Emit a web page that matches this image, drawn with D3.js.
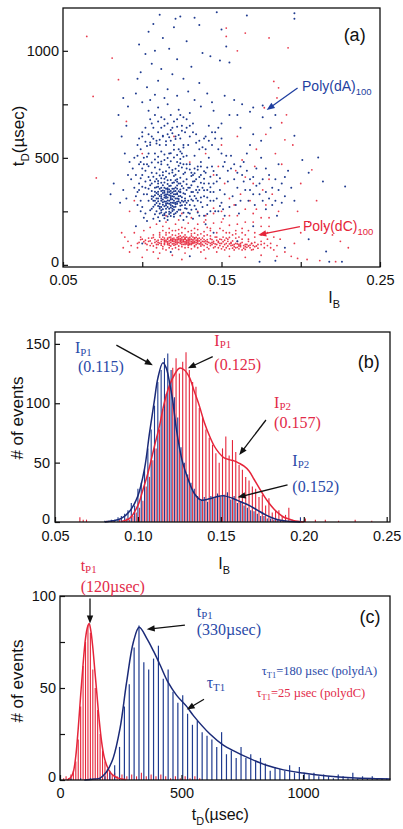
<!DOCTYPE html>
<html><head><meta charset="utf-8">
<script src="https://cdn.jsdelivr.net/npm/d3@7"></script>
<style>body{margin:0;background:#fff}svg{display:block}</style>
</head><body><svg id="chart" width="403" height="829"></svg>
<script>
// ---------------- DATA ----------------
// Panel (a): scatter, [I_B x1000, t_D (µsec)]
const polyA_points = [
[111,1168],[121,1150],[124,1160],[133,1154],[147,1180],[104,1089],[113,1060],[98,1030],[128,1045],[108,1000],[117,1010],[102,985],[138,990],[122,960],[143,975],[106,940],[131,925],[112,915],[99,900],[119,890],[126,870],[110,860],[136,850],[103,830],[116,820],[129,810],[141,800],[108,795],[97,870],[150,1100],[166,1165],[196,1175],[196,1150],[149,955],[155,945],[153,1020],[136,1120],[120,1110],[107,1125],
[88,780],[85,700],[91,740],[96,800],[100,760],[105,770],[114,780],[122,790],[133,770],[144,760],[152,790],[158,770],[163,750],[170,735],[176,745],[160,700],[168,715],[176,690],[184,700],
[106,262],[108,281],[110,297],[112,255],[114,274],[116,301],[118,268],[120,289],[122,310],[124,276],[126,295],[107,318],[109,336],[111,322],[113,347],[115,329],[117,352],[119,338],[121,361],[123,344],[125,369],[127,331],[105,372],[108,390],[110,365],[112,384],[114,402],[116,378],[118,396],[120,415],[122,388],[124,407],[126,424],[109,428],[111,446],[113,419],[115,437],[117,455],[119,431],[121,449],[123,463],[106,345],[111,271],[113,293],[115,262],[117,285],[119,306],[121,272],[123,297],[125,316],[110,310],[112,328],[114,315],[116,340],[118,322],[120,344],[122,330],[124,352],[107,299],[109,250],[111,240],[113,232],[115,246],[117,238],[119,252],[121,241],[118,228],[114,218],[120,225],[116,210],[104,300],[103,330],[102,360],[104,410],[106,430],[108,455],[110,478],[112,470],[114,490],[116,468],[118,484],[120,502],[122,480],[124,495],[126,470],[128,450],[128,400],[129,360],[130,320],[128,290],[127,265],[130,280],[131,340],[132,300],[115,355],[113,372],[117,368],[119,382],[121,395],[123,380],[110,392],[112,405],[114,345],[116,358],[118,305],[120,318],[122,335],[124,322],[112,310],[114,296],[116,288],[118,312],[120,300],[122,285],[115,278],[117,262],[119,275],[121,290],[108,342],[106,380],[109,362],[111,355],[113,336],[115,312],[117,325],[119,320],[121,330],[123,308],
[96,420],[98,380],[97,340],[99,300],[100,450],[101,500],[99,540],[98,470],[100,270],[102,240],[103,470],[104,520],[105,560],[106,600],[107,640],[108,520],[109,580],[110,620],[111,560],[112,530],[113,600],[114,650],[115,560],[116,610],[117,520],[118,580],[119,640],[120,560],[121,600],[122,680],[123,540],[124,590],[125,520],[126,560],[127,620],[128,510],[129,560],[130,470],[131,430],[132,390],[133,450],[134,350],[135,300],[136,410],[137,480],[138,360],[139,320],[140,430],[141,280],[142,380],[143,340],[144,460],[145,300],[146,250],[138,270],[136,230],[134,260],[132,215],[130,240],[128,225],[140,540],[142,500],[139,590],[136,540],[134,610],[132,660],[130,600],[128,680],[125,650],[118,700],[112,690],[105,680],[102,640],[100,600],[97,560],[95,500],[94,450],[93,400],[95,360],[96,320],[97,280],[99,250],[101,220],[103,205],[107,215],[111,205],[124,230],[126,210],[133,510],[135,460],[137,420],[139,380],[141,350],[143,300],[145,380],[147,420],[149,350],[150,290],[152,330],[154,390],[151,460],[153,510],[148,540],[150,590],[146,620],[144,560],[142,650],[148,250],[152,230],[155,270],[157,320],[159,280],[156,450],[158,400],[160,360],[162,300],[161,240],[163,420],[165,350],[164,480],[167,300],[166,520],[168,400],[170,330],[172,450],[171,280],[174,380],[176,300],[178,340],[175,500],[180,420],[182,360],[184,300],[186,470],[188,380],[190,320],[192,440],[185,230],[178,260],
[80,330],[82,380],[86,290],[88,350],[90,310],[91,420],[92,480],[89,520],[87,600],[90,650],
[104,720],[110,735],[116,750],[123,725],[130,710],[137,740],[145,720],[155,700],[150,660],[162,640],[170,610],[168,560],[175,580],[181,640],
[100,100],[118,60],[130,40],[145,150],[160,110],[170,180],[190,80],[205,120],[216,62],[218,15],[226,15],[184,19],[174,15],[96,180],[140,190],
[228,366],[214,389],[211,501],[205,430],[201,490],[196,603],
[105,255],[107,272],[109,289],[111,263],[113,281],[115,295],[117,248],[119,262],[121,283],[123,258],[125,279],[127,300],[106,308],[108,325],[110,341],[112,318],[114,337],[116,351],[118,333],[120,356],[122,371],[124,339],[126,358],[128,377],[105,395],[107,412],[109,401],[111,418],[113,433],[115,410],[117,427],[119,443],[121,421],[123,438],[125,455],[127,432],[104,461],[106,478],[108,492],[110,505],[112,483],[114,516],[116,499],[118,521],[120,538],[122,513],[124,530],[126,548],[103,555],[105,572],[107,589],[109,567],[111,584],[113,603],[115,577],[117,596],[119,615],[121,588],[123,607],[125,626],[108,236],[110,222],[112,245],[114,233],[116,226],[118,243],[120,236],[122,248],[124,257],[126,244],[128,262],[129,244],[131,258],[133,276],[135,245],[137,292],[131,305],[133,322],[135,338],[137,315],[139,349],[131,372],[133,391],[135,365],[137,384],[139,402],[131,415],[133,428],[135,444],[137,460],[139,437],[141,455],[143,412],[145,438],[147,390],[149,405],[141,315],[143,362],[145,340],[147,310],[149,275],[151,260],[143,250],[141,238],[139,230],[104,355],[102,390],[101,330],[100,365],[99,405],[98,350],[100,420],[102,440],[103,505],[101,470],[99,480],[97,510],[98,590],[100,620],[102,575],[104,610],[106,660],[108,700],[110,670],[112,640],[114,680],[116,660],[118,630],[120,670],[122,645],[124,700],[126,690],[128,640],[130,650],[132,620],[134,570],[136,580],[138,550],[140,600],[142,580],[144,620],[146,590],[148,640],[150,520],[152,480],[154,440],[156,510],[158,470],[160,430],[162,460],[164,390],[166,440],[168,350],[170,410],[172,370],[174,330],[176,400],[178,450],[180,310],[182,280],[184,400],[186,350],[188,290],[190,410],[194,360],[196,300],[112,300],[114,325],[116,315],[118,290],[120,270],[122,295],[117,340],[119,355],[121,345],[113,305],[115,320],[111,285],[109,310],[113,260],[115,285],[117,300],[119,290],[121,310],[123,320],[110,330],[112,345],[114,360],[116,330],[118,345],[120,330],[122,355],[124,340],[116,270],[118,280],[120,258],[114,240],[112,270],[110,275],[108,300],[106,320],[108,360],[110,380],[112,360],[114,385],[116,395],[118,370],[120,385],[122,400],[124,380],[126,390],[128,350],[127,310],[125,300],[126,335],[124,290],[127,280],[129,300],[130,360],[132,340],[134,310],[136,350],[134,400],[132,420],[130,445],[128,470],[126,505],[124,475]
];
const polyC_points = [
[110,95],[112,110],[114,100],[116,120],[118,105],[120,125],[122,98],[124,115],[126,108],[128,130],[130,102],[132,118],[134,95],[136,112],[138,125],[140,100],[111,130],[113,85],[115,140],[117,92],[119,115],[121,138],[123,88],[125,128],[127,95],[129,112],[131,135],[133,90],[135,122],[137,105],[139,90],[141,118],[112,120],[114,125],[116,95],[118,130],[120,110],[122,120],[124,100],[126,132],[128,115],[130,120],[132,105],[134,128],[136,98],[138,110],[120,92],[122,112],[124,135],[126,118],[128,98],[130,112],[132,130],[118,88],[116,108],[114,115],[121,105],[123,125],[125,112],[127,120],[129,105],[131,95],[133,110],[135,108],[119,122],[117,112],[127,108],[129,125],[123,105],[121,118],[110,115],[108,105],[106,125],[104,110],[102,100],[100,120],[98,105],[105,90],[107,140],[109,80],[111,150],[113,160],[115,70],[117,150],[119,75],[121,160],[123,72],[125,150],[127,80],[129,155],[131,75],[133,148],[135,80],[137,145],[139,70],[141,140],[143,90],[145,110],[147,95],[149,120],[151,85],[153,100],[155,75],[157,92],[159,80],[161,95],[163,70],[165,85],[150,100],[148,80],[146,130],[144,105],[142,75],[152,115],[154,88],[156,105],[158,70],[160,82],[162,100],[164,78],[166,95],[168,80],[170,72],[172,88],[154,120],[156,90],[152,70],[146,85],[144,95],[148,110],[150,75],[158,95],[160,110],[162,85],
[95,150],[97,80],[99,130],[101,160],[103,70],[105,175],[107,60],[109,190],[111,55],[113,180],[115,200],[117,170],[119,45],[121,190],[123,210],[125,175],[127,55],[129,195],[131,220],[133,170],[135,190],[137,60],[139,200],[141,175],[143,160],[145,195],[147,60],[149,170],[151,215],[153,150],[155,185],[157,140],[159,160],[161,130],[163,170],[165,140],[167,120],[169,100],[171,130],[173,95],[175,110],[177,80],[179,120],[181,100],[183,70],[185,90],[160,230],[165,260],[170,200],[175,180],[180,220],[158,280],[150,250],[145,240],[140,230],[155,310],[162,330],[168,300],[172,260],[178,280],[182,330],[186,250],[176,350],[170,380],[165,410],[159,440],[152,380],[148,460],[145,420],[163,490],[171,460],[180,400],[188,470],[184,520],[93,90],[91,110],[89,130],[92,60],[88,80],[87,150],[190,60],[194,40],[198,30],[204,25],[212,20],[222,15],[100,35],[110,30],[125,25],[140,30],[155,40],[165,35],[175,45],[185,40],[196,100],[200,150],
[65,1067],[81,966],[85,865],[69,787],[90,670],[153,1106],[153,1067],[165,1083],[192,1014],[183,857],[186,827],[185,780],[177,734],[191,701],[188,664],[190,584],[207,444],[71,406],[195,560],[200,380],[210,300],[198,250],[205,200],[215,180],[220,140],[225,110],[230,80],[178,610],[172,540],[160,600],[150,560],[140,520],[130,480],[120,600],[100,520],[95,300],[92,250],[180,1060],[160,1000],
[111,102],[113,118],[115,108],[117,128],[119,98],[121,112],[123,132],[125,104],[127,122],[129,92],[131,110],[133,126],[135,100],[137,118],[139,108],[141,96],[143,122],[145,102],[147,115],[149,90],[151,108],[153,125],[155,98],[157,112],[159,100],[161,88],[163,105],[165,95],[167,88],[169,100],[171,85],[173,78],[112,92],[114,108],[116,125],[118,115],[120,100],[122,128],[124,108],[126,96],[128,112],[130,128],[132,100],[134,115],[136,125],[138,95],[140,112],[142,105],[144,118],[146,98],[148,105],[150,118],[152,95],[154,110],[156,100],[158,85],[160,98],[162,92],[164,90],[166,82],[168,92],[170,90],[113,130],[115,115],[117,100],[119,110],[121,95],[123,118],[125,120],[127,102],[129,118],[131,102],[133,122],[135,115],[137,98],[139,118],[141,108],[143,100],[120,118],[122,105],[124,122],[126,112],[128,105],[130,95],[132,112],[134,105],[125,95],[127,128],[129,98],[131,120],[133,103],[118,120],[116,102],[114,95],[112,100],[110,105],[108,118],[106,100],[104,125],[102,115],[107,128],[109,110],[105,112],[103,95],[101,108],[99,118],[97,100],[119,140],[123,145],[127,140],[131,145],[135,140],[139,135],[143,135],[147,130],[151,130],[155,128],[159,125],[163,120],[167,110],[171,105],[175,95],[179,90],[181,80],[177,100],[121,80],[125,85],[129,82],[133,85],[137,88],[141,82],[145,80],[149,100],[153,80],[157,78],[161,75],[165,72],[169,70],[117,80],[113,75],[109,95],[107,88],[111,140],[115,150],[119,160],[123,165],[127,170],[131,160],[135,165],[139,155],[143,170],[147,150],[151,160],[155,150],[159,145],[163,150],[167,160],[171,150],[175,140],[179,150],[183,130],[187,120],[140,210],[150,200],[160,190],[170,240],[175,220],[180,180],[165,200],[155,230],[145,265],[135,250],[125,240],[115,230]
];

// Panel (b): histogram of I_B, [bin centre, count]
const histB_polyA = [[0.080,1],[0.082,1],[0.084,2],[0.086,2],[0.088,4],[0.090,5],[0.092,7],[0.094,10],[0.096,16],[0.098,14],[0.100,28],[0.102,33],[0.104,45],[0.106,62],[0.108,78],[0.110,98],[0.112,118],[0.114,128],[0.116,138],[0.118,142],[0.120,128],[0.122,105],[0.124,88],[0.126,63],[0.128,50],[0.130,40],[0.132,33],[0.134,28],[0.136,22],[0.138,18],[0.140,21],[0.142,17],[0.144,22],[0.146,20],[0.148,24],[0.150,21],[0.152,23],[0.154,25],[0.156,19],[0.158,22],[0.160,16],[0.162,17],[0.164,14],[0.166,12],[0.168,10],[0.170,9],[0.172,7],[0.174,5],[0.176,5],[0.178,3],[0.180,3],[0.182,2],[0.184,2],[0.186,1],[0.188,1],[0.192,1],[0.196,1],[0.198,4],[0.200,1]];
const histB_polyC = [[0.065,4],[0.067,2],[0.069,2],[0.081,1],[0.085,1],[0.089,2],[0.093,3],[0.095,2],[0.097,5],[0.099,8],[0.101,12],[0.103,18],[0.105,30],[0.107,38],[0.109,52],[0.111,62],[0.113,78],[0.115,95],[0.117,108],[0.119,118],[0.121,130],[0.123,138],[0.125,125],[0.127,135],[0.129,143],[0.131,128],[0.133,118],[0.135,114],[0.137,96],[0.139,88],[0.141,78],[0.143,71],[0.145,65],[0.147,58],[0.149,50],[0.151,62],[0.153,72],[0.155,56],[0.157,69],[0.159,59],[0.161,48],[0.163,44],[0.165,38],[0.167,35],[0.169,30],[0.171,28],[0.173,21],[0.175,23],[0.177,14],[0.179,20],[0.181,8],[0.183,10],[0.185,10],[0.187,5],[0.189,6],[0.191,12],[0.193,2],[0.197,1],[0.201,3],[0.207,2],[0.213,2],[0.221,1],[0.231,2],[0.241,1]];
// fitted curves (b)
const fitB_polyA = [[0.080,0],[0.085,1],[0.090,3],[0.095,9],[0.100,22],[0.104,45],[0.107,75],[0.110,103],[0.112,121],[0.115,134],[0.117,130],[0.119,118],[0.121,102],[0.123,80],[0.125,63],[0.127,50],[0.130,37],[0.134,24],[0.138,18.5],[0.143,19.5],[0.148,21.5],[0.152,22],[0.157,20],[0.162,17],[0.167,14],[0.172,10],[0.177,6],[0.182,3],[0.187,1.2],[0.192,0.4],[0.198,0]];
const fitB_polyC = [[0.090,0.5],[0.095,3],[0.100,14],[0.103,27],[0.106,41],[0.110,64],[0.113,81],[0.116,101],[0.119,115],[0.122,124],[0.125,129.5],[0.128,128],[0.131,122],[0.134,110],[0.137,98],[0.140,84],[0.143,73],[0.146,64],[0.149,58],[0.152,54],[0.155,52.5],[0.158,51.5],[0.161,49.5],[0.164,47],[0.167,43],[0.170,36],[0.173,29],[0.176,22],[0.179,16],[0.182,11],[0.185,7],[0.188,4],[0.191,2.5],[0.195,0.8],[0.200,0]];

// Panel (c): histogram of t_D, [bin centre µsec, count]
const histC_polyA = [[45,1],[85,1],[125,1],[165,1],[185,2],[205,5],[225,8],[245,18],[265,40],[285,52],[305,72],[325,84],[345,64],[365,60],[385,66],[405,73],[425,55],[445,60],[465,48],[485,42],[505,46],[525,36],[545,30],[565,32],[585,26],[605,24],[625,22],[645,18],[665,26],[685,14],[705,16],[725,12],[745,18],[765,12],[785,14],[805,10],[825,12],[845,9],[865,5],[885,7],[905,6],[925,5],[945,8],[965,4],[985,7],[1005,4],[1025,3],[1045,4],[1065,2],[1085,3],[1105,2],[1125,1],[1145,3],[1165,2],[1185,1],[1205,4],[1225,1],[1245,2],[1265,1],[1285,2],[1305,1],[1325,1],[1345,1]];
const histC_polyC = [[15,1],[25,2],[35,1],[45,3],[55,5],[65,10],[75,22],[85,40],[95,62],[105,75],[115,84],[125,80],[135,60],[145,50],[155,38],[165,25],[175,16],[185,10],[195,6],[205,4],[215,3],[225,4],[235,2],[255,3],[275,2],[295,3],[315,2],[335,4],[355,2],[375,3],[395,2],[415,3],[435,2],[455,1],[475,2],[495,1],[515,2],[535,1],[555,2],[575,1]];
const fitC_polyA = [[100,0],[140,0.5],[165,1],[192,4.5],[219,12],[247,28],[274,53],[302,75],[326,83],[357,77],[385,70],[412,62.5],[445,53],[480,46],[521,40],[549,35],[617,25],[672,19],[713,16],[775,12],[850,8],[920,5.5],[1000,3.8],[1100,2.2],[1200,1.2],[1300,0.7],[1360,0.5]];
const fitC_polyC = [[30,0],[45,1.5],[55,4.5],[65,13],[75,28],[85,46],[95,63],[105,77],[113,83],[120,85],[127,81],[135,72],[143,60],[151,48],[161,33],[171,21],[181,13],[192,8],[205,4.5],[219,2.5],[240,1],[270,0.3]];

// tick values
const ticksA_x = [0.05, 0.15, 0.25], ticksA_xMinor = [0.10, 0.20];
const ticksA_y = [0, 500, 1000], ticksA_yMinor = [250, 750];
const ticksB_x = [0.05, 0.10, 0.15, 0.20, 0.25];
const ticksB_y = [0, 50, 100, 150];
const ticksC_x = [0, 500, 1000];
const ticksC_y = [0, 50, 100], ticksC_yMinor = [25, 75];

// ---------------- DRAW ----------------
const BLUE = "#1f3b8f", BLUE_D = "#1a2a78", RED = "#e5253a", RED_T = "#e22a48";
const SANS = "'Liberation Sans', Arial, Helvetica, sans-serif";
const SERIF = "'Liberation Serif', 'Times New Roman', serif";
const svg = d3.select("#chart");
svg.append("rect").attr("width", 403).attr("height", 829).attr("fill", "#fff");
const defs = svg.append("defs");

function rich(g, x, y, parts, size, color, family, anchor, subShift) {
  const sh = subShift === undefined ? 0.3 : subShift;
  const t = g.append("text").attr("x", x).attr("y", y).attr("font-size", size)
    .attr("fill", color).attr("font-family", family).attr("text-anchor", anchor || "start");
  let sub = false;
  parts.forEach(([s, isSub]) => {
    const ts = t.append("tspan").text(s);
    if (isSub) { ts.attr("font-size", size * 0.68); if (!sub) ts.attr("dy", size * sh); }
    else if (sub) ts.attr("dy", -size * sh);
    sub = isSub;
  });
  return t;
}
function arrow(g, x1, y1, x2, y2, color) {
  const dx = x2 - x1, dy = y2 - y1, L = Math.hypot(dx, dy), ux = dx / L, uy = dy / L;
  const hl = 8, hw = 3.2;
  g.append("line").attr("x1", x1).attr("y1", y1).attr("x2", x2 - ux * hl * 0.8).attr("y2", y2 - uy * hl * 0.8)
    .attr("stroke", color).attr("stroke-width", 1.3);
  const bx = x2 - ux * hl, by = y2 - uy * hl;
  g.append("path").attr("d", `M${x2},${y2}L${bx - uy * hw},${by + ux * hw}L${bx + uy * hw},${by - ux * hw}Z`).attr("fill", color);
}
function frame(g, x, y) {
  const [x0, x1] = x.range(), [y0, y1] = y.range();
  g.append("rect").attr("x", x0).attr("y", y1).attr("width", x1 - x0).attr("height", y0 - y1)
    .attr("fill", "none").attr("stroke", "#111").attr("stroke-width", 1.3);
}
function axes(g, x, y, xt, xtm, yt, ytm, xfmt, fsz, pad) {
  const y0 = y.range()[0], x0 = x.range()[0];
  const ax = g.append("g").attr("transform", `translate(0,${y0})`)
    .call(d3.axisBottom(x).tickValues(xt).tickFormat(xfmt).tickSizeInner(-5).tickSizeOuter(0).tickPadding(pad[0]));
  const ay = g.append("g").attr("transform", `translate(${x0},0)`)
    .call(d3.axisLeft(y).tickValues(yt).tickFormat(d3.format("d")).tickSizeInner(-5).tickSizeOuter(0).tickPadding(pad[1]));
  [ax, ay].forEach(a => {
    a.select(".domain").remove();
    a.selectAll("text").attr("font-family", SANS).attr("font-size", fsz).attr("fill", "#111");
    a.selectAll("line").attr("stroke", "#111").attr("stroke-width", 1.2);
  });
  // lift the bottom-most y label slightly so it clears the x labels
  ay.selectAll(".tick").filter(d => d === yt[0]).select("text").attr("dy", "0.12em");
  if (xtm) g.append("g").attr("transform", `translate(0,${y0})`)
    .call(d3.axisBottom(x).tickValues(xtm).tickFormat("").tickSizeInner(-5).tickSizeOuter(0))
    .call(a => { a.select(".domain").remove(); a.selectAll("line").attr("stroke", "#111").attr("stroke-width", 1.2); });
  if (ytm) g.append("g").attr("transform", `translate(${x0},0)`)
    .call(d3.axisLeft(y).tickValues(ytm).tickFormat("").tickSizeInner(-5).tickSizeOuter(0))
    .call(a => { a.select(".domain").remove(); a.selectAll("line").attr("stroke", "#111").attr("stroke-width", 1.2); });
}
function ytitle(g, cx, cy, parts, size) {
  const t = rich(g, 0, 0, parts, size, "#111", SANS, "middle");
  t.attr("transform", `translate(${cx},${cy}) rotate(-90)`);
}

// ----- Panel (a)
{
  const g = svg.append("g");
  const x = d3.scaleLinear().domain([0.05, 0.25]).range([63, 380]);
  const y = d3.scaleLinear().domain([-10, 1200]).range([267, 8]);
  defs.append("clipPath").attr("id", "clipA").append("rect").attr("x", 63).attr("y", 8).attr("width", 317).attr("height", 259);
  const pts = g.append("g").attr("clip-path", "url(#clipA)");
  pts.selectAll(".c").data(polyC_points).join("circle").attr("cx", d => x(d[0] / 1000)).attr("cy", d => y(d[1]))
    .attr("r", 0.9).attr("fill", RED).attr("opacity", 0.9);
  pts.selectAll(".a").data(polyA_points).join("circle").attr("cx", d => x(d[0] / 1000)).attr("cy", d => y(d[1]))
    .attr("r", 1.0).attr("fill", BLUE);
  frame(g, x, y);
  axes(g, x, y, ticksA_x, ticksA_xMinor, ticksA_y, ticksA_yMinor, d3.format(".2f"), 14.5, [8, 4]);
  rich(g, x(0.221), y(0) + 38, [["I", false], ["B", true]], 16, "#111", SANS, "middle");
  ytitle(g, 24, 136, [["t", false], ["D", true], ["(µsec)", false]], 17);
  g.append("text").attr("x", x(0.234)).attr("y", y(1045)).attr("text-anchor", "middle")
    .attr("font-family", SANS).attr("font-size", 18).attr("fill", "#111").text("(a)");
  rich(g, x(0.2008), y(810), [["Poly(dA)", false], ["100", true]], 14, "#1f3fa0", SANS, "start", 0.25);
  arrow(g, x(0.198), y(826), x(0.1785), y(724), "#1f3fa0");
  rich(g, x(0.2014), y(156), [["Poly(dC)", false], ["100", true]], 14, RED, SANS, "start", 0.25);
  arrow(g, x(0.1995), y(179), x(0.1732), y(140), RED);
}

// ----- Panel (b)
{
  const g = svg.append("g");
  const x = d3.scaleLinear().domain([0.05, 0.252]).range([55, 390]);
  const y = d3.scaleLinear().domain([0, 160]).range([522, 332]);
  g.selectAll(".rb").data(histB_polyC).join("line").attr("x1", d => x(d[0])).attr("x2", d => x(d[0]))
    .attr("y1", y(0)).attr("y2", d => y(d[1])).attr("stroke", RED).attr("stroke-width", 1.1);
  g.selectAll(".bb").data(histB_polyA).join("line").attr("x1", d => x(d[0])).attr("x2", d => x(d[0]))
    .attr("y1", y(0)).attr("y2", d => y(d[1])).attr("stroke", BLUE).attr("stroke-width", 1.1);
  const line = d3.line().x(d => x(d[0])).y(d => y(d[1])).curve(d3.curveCatmullRom);
  g.append("path").attr("d", line(fitB_polyC)).attr("fill", "none").attr("stroke", RED).attr("stroke-width", 1.5);
  g.append("path").attr("d", line(fitB_polyA)).attr("fill", "none").attr("stroke", BLUE_D).attr("stroke-width", 1.5);
  frame(g, x, y);
  axes(g, x, y, ticksB_x, null, ticksB_y, null, d3.format(".2f"), 14.5, [9, 5]);
  rich(g, x(0.152), 569, [["I", false], ["B", true]], 16, "#111", SANS, "middle");
  ytitle(g, 23, 418, [["# of events", false]], 17);
  g.append("text").attr("x", x(0.2392)).attr("y", y(129.7)).attr("text-anchor", "middle")
    .attr("font-family", SANS).attr("font-size", 18).attr("fill", "#111").text("(b)");
  // annotations
  rich(g, x(0.062), y(142), [["I", false], ["P1", true]], 16, "#2a4aa8", SERIF, "start", 0.15);
  rich(g, x(0.0638), y(126.6), [["(0.115)", false]], 16, "#2a4aa8", SERIF);
  arrow(g, x(0.087), y(149), x(0.109), y(132), "#111");
  rich(g, x(0.1461), y(148.5), [["I", false], ["P1", true]], 16, RED_T, SERIF, "start", 0.15);
  rich(g, x(0.1461), y(128), [["(0.125)", false]], 16, RED_T, SERIF);
  arrow(g, x(0.1451), y(139.3), x(0.1301), y(129.5), "#111");
  rich(g, x(0.1821), y(96), [["I", false], ["P2", true]], 16, RED_T, SERIF, "start", 0.12);
  rich(g, x(0.1821), y(79.5), [["(0.157)", false]], 16, RED_T, SERIF);
  arrow(g, x(0.1772), y(85.9), x(0.1611), y(56.4), "#111");
  rich(g, x(0.1931), y(47), [["I", false], ["P2", true]], 16, "#2a4aa8", SERIF, "start", 0.12);
  rich(g, x(0.1931), y(25.5), [["(0.152)", false]], 16, "#2a4aa8", SERIF);
  arrow(g, x(0.1902), y(31.2), x(0.1601), y(20.8), "#111");
}

// ----- Panel (c)
{
  const g = svg.append("g");
  const x = d3.scaleLinear().domain([0, 1358]).range([60, 390]);
  const y = d3.scaleLinear().domain([0, 100]).range([780, 596]);
  g.selectAll(".rc").data(histC_polyC).join("line").attr("x1", d => x(d[0])).attr("x2", d => x(d[0]))
    .attr("y1", y(0)).attr("y2", d => y(d[1])).attr("stroke", RED).attr("stroke-width", 1.1);
  g.selectAll(".bc").data(histC_polyA).join("line").attr("x1", d => x(d[0])).attr("x2", d => x(d[0]))
    .attr("y1", y(0)).attr("y2", d => y(d[1])).attr("stroke", BLUE).attr("stroke-width", 1.2);
  const line = d3.line().x(d => x(d[0])).y(d => y(d[1])).curve(d3.curveCatmullRom);
  g.append("path").attr("d", line(fitC_polyC)).attr("fill", "none").attr("stroke", RED).attr("stroke-width", 1.5);
  g.append("path").attr("d", line(fitC_polyA)).attr("fill", "none").attr("stroke", BLUE_D).attr("stroke-width", 1.5);
  frame(g, x, y);
  axes(g, x, y, ticksC_x, null, ticksC_y, ticksC_yMinor, d3.format("d"), 14.5, [8, 4]);
  rich(g, x(660), 820, [["t", false], ["D", true], ["(µsec)", false]], 16, "#111", SANS, "middle");
  ytitle(g, 23, 681, [["# of events", false]], 17);
  g.append("text").attr("x", x(1276)).attr("y", y(85.2)).attr("text-anchor", "middle")
    .attr("font-family", SANS).attr("font-size", 18).attr("fill", "#111").text("(c)");
  rich(g, x(85), y(113.7), [["t", false], ["P1", true]], 16, RED_T, SERIF, "start", 0.15);
  rich(g, x(85), y(102.3), [["(120µsec)", false]], 16, RED_T, SERIF);
  arrow(g, x(123.5), y(98.7), x(123.5), y(85.1), "#111");
  rich(g, x(562.5), y(88.8), [["t", false], ["P1", true]], 16, "#2a4aa8", SERIF, "start", 0.15);
  rich(g, x(562.5), y(78.8), [["(330µsec)", false]], 16, "#2a4aa8", SERIF);
  arrow(g, x(514), y(84.2), x(356.8), y(81.9), "#111");
  rich(g, x(603.6), y(49.8), [["τ", false], ["T1", true]], 16, "#2a4aa8", SERIF, "start", 0.15);
  arrow(g, x(592.6), y(43.9), x(521.4), y(38.3), "#111");
  rich(g, x(830), y(57), [["τ", false], ["T1", true], ["=180 µsec (polydA)", false]], 12.5, "#2a4aa8", SERIF, "start", 0.2);
  rich(g, x(809), y(45.1), [["τ", false], ["T1", true], ["=25 µsec (polydC)", false]], 12.5, RED_T, SERIF, "start", 0.2);
}
</script></body></html>
